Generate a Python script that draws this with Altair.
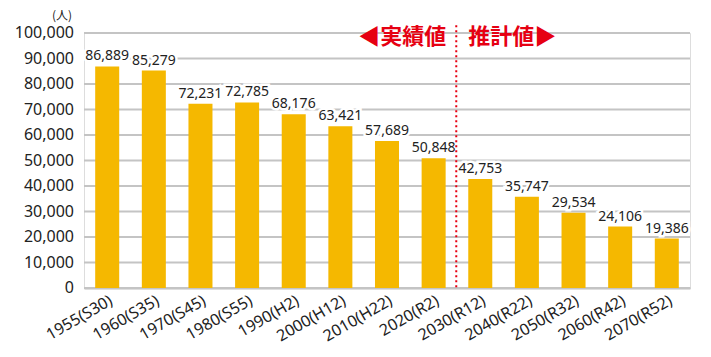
import altair as alt
import pandas as pd

categories = ["1955(S30)", "1960(S35)", "1970(S45)", "1980(S55)", "1990(H2)", "2000(H12)",
              "2010(H22)", "2020(R2)", "2030(R12)", "2040(R22)", "2050(R32)", "2060(R42)", "2070(R52)"]
values = [86889, 85279, 72231, 72785, 68176, 63421, 57689, 50848, 42753, 35747, 29534, 24106, 19386]
y_ticks = [0, 10000, 20000, 30000, 40000, 50000, 60000, 70000, 80000, 90000, 100000]

df = pd.DataFrame({"cat": categories, "val": values})
df["lbl"] = df["val"].map(lambda v: f"{v:,}")
tick_df = pd.DataFrame({"val": y_ticks})
tick_df["lbl"] = tick_df["val"].map(lambda v: f"{v:,}")

FONT = "Noto Sans"
BAR = "#F5B800"
RED = "#E60012"
W, H = 606, 255

x_scale = alt.Scale(domain=categories, paddingInner=0.485, paddingOuter=0.24)
y_scale = alt.Scale(domain=[0, 100000], nice=False)

x_axis = alt.Axis(title=None, labelAngle=-30, labelFontSize=16, labelFont=FONT,
                  labelColor="#222222", ticks=False, domainColor="#bdbdbd",
                  domainWidth=2, labelPadding=4, labelOverlap=False, grid=False)

X = alt.X("cat:N", scale=x_scale, sort=categories, axis=x_axis)
Y = alt.Y("val:Q", scale=y_scale, axis=None)

grid = alt.Chart(tick_df).mark_rule(color="#c4c4c4", strokeWidth=2).encode(
    y=Y, x=alt.value(0), x2=alt.value(W))
ytext = alt.Chart(tick_df).mark_text(align="right", baseline="middle", fontSize=16,
                                     font=FONT, color="#222222", dx=-10).encode(
    y=Y, x=alt.value(0), text="lbl:N")
unit = alt.Chart(pd.DataFrame({"t": ["(人)"]})).mark_text(
    align="center", baseline="bottom", fontSize=12, font="Noto Sans CJK JP",
    color="#222222").encode(x=alt.value(-22), y=alt.value(-10), text="t:N")

base = alt.Chart(df)
bars = base.mark_bar(color=BAR).encode(x=X, y=Y)

halo = base.mark_text(baseline="bottom", dy=-3, fontSize=14, font=FONT,
                      stroke="white", strokeWidth=5, color="white").encode(x=X, y=Y, text="lbl:N")
labels = base.mark_text(baseline="bottom", dy=-3, fontSize=14, font=FONT,
                        color="#222222").encode(x=X, y=Y, text="lbl:N")

div_df = pd.DataFrame({"cat": ["2030(R12)"], "val": [103000], "bot": [0]})
divider = alt.Chart(div_df).mark_rule(color=RED, strokeDash=[2, 3], strokeWidth=2).encode(
    x=alt.X("cat:N", scale=x_scale, sort=categories, axis=x_axis, bandPosition=0),
    xOffset=alt.value(-12),
    y=Y, y2="bot:Q")

ann_df = pd.DataFrame({"cat": ["2030(R12)", "2030(R12)"], "val": [98400, 98400],
                       "t": ["◀実績値", "推計値▶"], "side": ["l", "r"]})
XA = alt.X("cat:N", scale=x_scale, sort=categories, axis=x_axis, bandPosition=0)
ann_left = alt.Chart(ann_df[ann_df.side == "l"]).mark_text(
    align="right", baseline="middle", dx=-22, fontSize=22, font="Noto Sans CJK JP",
    fontWeight="bold", color=RED).encode(x=XA, y=Y, text="t:N")
ann_right = alt.Chart(ann_df[ann_df.side == "r"]).mark_text(
    align="left", baseline="middle", dx=0, fontSize=22, font="Noto Sans CJK JP",
    fontWeight="bold", color=RED).encode(x=XA, y=Y, text="t:N")

chart = alt.layer(grid, ytext, unit, bars, halo, labels, divider, ann_left, ann_right).properties(
    width=W, height=H,
    autosize=alt.AutoSizeParams(type="none"),
    padding={"left": 76, "top": 25, "right": 13, "bottom": 60},
).configure_view(stroke=None).configure(background="white")

chart.save("out.html", embed_options={"renderer": "svg", "actions": False})
